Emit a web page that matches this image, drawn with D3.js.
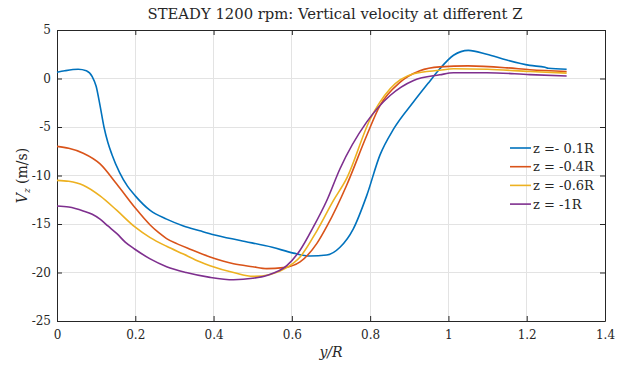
<!DOCTYPE html>
<html><head><meta charset="utf-8">
<script src="https://cdn.jsdelivr.net/npm/d3@7"></script>
<style>body{margin:0;background:#fff}svg{display:block}text{font-family:"DejaVu Serif",serif;fill:#262626}</style>
</head><body><svg id="c" width="617" height="365"></svg>
<script>
const title = "STEADY 1200 rpm: Vertical velocity at different Z";
const xTicks = [0, 0.2, 0.4, 0.6, 0.8, 1, 1.2, 1.4];
const yTicks = [-25, -20, -15, -10, -5, 0, 5];
const seriesNames = ["z =- 0.1R", "z = -0.4R", "z = -0.6R", "z = -1R"];
const colors = ["#0072BD", "#D95319", "#EDB120", "#7E2F8E"];

const x1 = [0,0.02,0.054,0.075,0.09,0.1,0.11,0.12,0.13,0.14,0.16,0.18,0.2,0.238,0.28,0.323,0.365,0.4,0.468,0.55,0.604,0.646,0.689,0.723,0.757,0.791,0.825,0.86,0.911,0.95,0.978,1.013,1.051,1.098,1.149,1.208,1.247,1.255,1.302];
const y1 = [0.65,0.8,0.95,0.8,0.2,-0.8,-2.8,-5.0,-6.6,-7.8,-9.7,-11.1,-12.1,-13.6,-14.5,-15.2,-15.7,-16.1,-16.7,-17.4,-18.0,-18.3,-18.2,-17.4,-15.5,-12.1,-7.9,-5.2,-2.4,-0.4,1.0,2.4,2.9,2.5,1.9,1.35,1.15,1.05,0.95];
const x2 = [0,0.03,0.067,0.11,0.153,0.199,0.238,0.26,0.28,0.31,0.34,0.391,0.451,0.5,0.536,0.578,0.621,0.664,0.69,0.74,0.791,0.825,0.876,0.927,0.978,1.05,1.15,1.208,1.302];
const y2 = [-7.0,-7.2,-7.7,-8.8,-10.9,-13.3,-15.1,-15.9,-16.5,-17.1,-17.6,-18.4,-19.1,-19.4,-19.6,-19.5,-18.9,-17.0,-15.2,-11.0,-5.9,-2.8,-0.4,0.8,1.2,1.3,1.1,0.9,0.72];
const x3 = [0,0.03,0.067,0.11,0.153,0.199,0.238,0.28,0.323,0.365,0.391,0.451,0.502,0.545,0.587,0.621,0.664,0.706,0.74,0.8,0.851,0.911,0.978,1.013,1.1,1.208,1.302];
const y3 = [-10.5,-10.6,-11.0,-12.1,-13.6,-15.3,-16.4,-17.3,-18.1,-18.9,-19.3,-20.0,-20.4,-20.2,-19.5,-18.4,-15.7,-12.6,-10.3,-4.2,-1.06,0.48,0.85,1.0,0.95,0.72,0.55];
const x4 = [0,0.03,0.067,0.09,0.11,0.13,0.153,0.175,0.199,0.238,0.28,0.33,0.391,0.451,0.5,0.536,0.587,0.621,0.655,0.689,0.723,0.791,0.851,0.911,0.978,1.013,1.098,1.208,1.302];
const y4 = [-13.15,-13.25,-13.65,-14.0,-14.5,-15.2,-16.0,-16.9,-17.6,-18.6,-19.4,-20.0,-20.5,-20.75,-20.6,-20.3,-19.3,-17.7,-15.3,-12.6,-9.3,-4.5,-1.75,-0.2,0.38,0.59,0.6,0.4,0.25];

const xs = [x1, x2, x3, x4], ys = [y1, y2, y3, y4];
const L = 57, R = 605, T = 30, B = 321;
const svg = d3.select("#c");
const x = d3.scaleLinear().domain([0, 1.4]).range([L, R]);
const y = d3.scaleLinear().domain([-25, 5]).range([B, T]);
const FF = '"DejaVu Serif",serif';

// grid
svg.append("g").selectAll("line").data(xTicks.slice(1, -1)).join("line")
  .attr("x1", d => x(d)).attr("x2", d => x(d)).attr("y1", T).attr("y2", B)
  .attr("stroke", "#e3e3e3").attr("stroke-width", 1).attr("shape-rendering", "crispEdges");
svg.append("g").selectAll("line").data(yTicks.slice(1, -1)).join("line")
  .attr("y1", d => y(d)).attr("y2", d => y(d)).attr("x1", L).attr("x2", R)
  .attr("stroke", "#e3e3e3").attr("stroke-width", 1).attr("shape-rendering", "crispEdges");

// axes
const ax = svg.append("g").attr("transform", `translate(0,${B})`)
  .call(d3.axisBottom(x).tickValues(xTicks).tickFormat(d3.format("")).tickSizeInner(-5).tickSizeOuter(0).tickPadding(9));
const ay = svg.append("g").attr("transform", `translate(${L},0)`)
  .call(d3.axisLeft(y).tickValues(yTicks).tickFormat(d => d).tickSizeInner(-5).tickSizeOuter(0).tickPadding(6));
const axT = svg.append("g").attr("transform", `translate(0,${T})`)
  .call(d3.axisTop(x).tickValues(xTicks).tickFormat("").tickSizeInner(-5).tickSizeOuter(0));
const ayR = svg.append("g").attr("transform", `translate(${R},0)`)
  .call(d3.axisRight(y).tickValues(yTicks).tickFormat("").tickSizeInner(-5).tickSizeOuter(0));
[ax, ay, axT, ayR].forEach(g => {
  g.selectAll("path,line").attr("stroke", "#262626").attr("stroke-width", 1);
  g.selectAll("text").attr("font-family", FF).attr("font-size", 12).attr("fill", "#262626");
});

// lines
const line = d3.line().x(d => x(d[0])).y(d => y(d[1])).curve(d3.curveMonotoneX);
xs.forEach((xv, i) => {
  svg.append("path").datum(xv.map((v, j) => [v, ys[i][j]]))
    .attr("d", line).attr("fill", "none").attr("stroke", colors[i]).attr("stroke-width", 1.6);
});

// title
svg.append("text").attr("x", 335).attr("y", 19).attr("text-anchor", "middle")
  .attr("font-size", 14.8).attr("fill", "#111").text(title);
// x label
svg.append("text").attr("x", (L + R) / 2).attr("y", 357).attr("text-anchor", "middle")
  .attr("font-size", 14).attr("font-style", "italic").text("y/R");
// y label
const yl = svg.append("text").attr("transform", `translate(27,${(T + B) / 2}) rotate(-90)`)
  .attr("text-anchor", "middle").attr("font-size", 14);
yl.append("tspan").attr("font-style", "italic").text("V");
yl.append("tspan").attr("font-style", "italic").attr("font-size", 9).attr("dy", 3).text("z");
yl.append("tspan").attr("dy", -3).text(" (m/s)");

// legend
const lg = svg.append("g");
seriesNames.forEach((n, i) => {
  const yy = 148 + i * 18.7;
  lg.append("line").attr("x1", 510).attr("x2", 531).attr("y1", yy).attr("y2", yy)
    .attr("stroke", colors[i]).attr("stroke-width", 1.6);
  lg.append("text").attr("x", 533).attr("y", yy + 4.5).attr("font-size", 13).text(n);
});
</script></body></html>
